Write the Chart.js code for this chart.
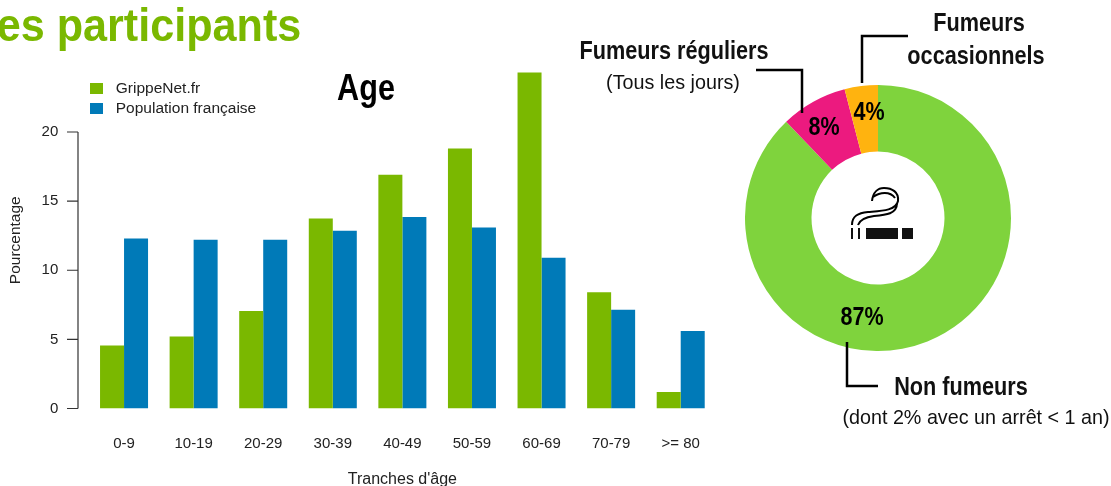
<!DOCTYPE html>
<html lang="fr"><head><meta charset="utf-8">
<script src="https://cdn.jsdelivr.net/npm/chart.js@4"></script>
<style>
html,body{margin:0;padding:0;background:#fff;width:1111px;height:486px;overflow:hidden}
#stage{position:relative;width:1111px;height:486px;overflow:hidden}
canvas{position:absolute}
.t{position:absolute;white-space:nowrap;font-family:"Liberation Sans",sans-serif;color:#000;line-height:1}
.b{font-weight:bold}
svg{position:absolute;left:0;top:0}
</style></head><body>
<div id="stage">
<div id="barBox" style="position:absolute;left:0;top:0;width:720px;height:486px"><canvas id="bars"></canvas></div>
<div id="donutBox" style="position:absolute;left:745px;top:85px;width:266px;height:266px"><canvas id="donut"></canvas></div>
<svg width="1111" height="486" fill="none" stroke="#000" stroke-width="2.5">
<path d="M756 70H802V113"/><path d="M908 36H862V83"/><path d="M847 342V386H878"/>
<g stroke-width="2"><path d="M852 225C852 216 858 213 868 212C880 211 896 211 898 201C899 192 892 188 884 188C878 188 873 192 872 201"/>
<path d="M858 225C860 219 866 217 874 216C886 215 897 214 897 203"/><path d="M873 197C880 192 890 191 895 198"/></g>
<g fill="#111" stroke="none"><rect x="851" y="228" width="2" height="11"/><rect x="858" y="228" width="2" height="11"/><rect x="866" y="228" width="32" height="11"/><rect x="902" y="228" width="11" height="11"/></g>
</svg>
</div>
<script>
const categories=["0-9","10-19","20-29","30-39","40-49","50-59","60-69","70-79",">= 80"];
const grippeNet=[4.55,5.2,7.05,13.75,16.9,18.8,24.3,8.4,1.2];
const populationFr=[12.3,12.2,12.2,12.85,13.85,13.1,10.9,7.15,5.6];
const yTicks=[0,5,10,15,20];
const smokerLabels=["Non fumeurs","Fumeurs réguliers","Fumeurs occasionnels"];
const smokerValues=[87,8,4];
const smokerColors=["#7FD33D","#EC1A7F","#FFB30F"];
const seriesColors=['#7AB800','#007AB8'];
const texts=[
["es participants",149,24,47,1,"#7AB800",.918],["Age",366,88,36,1,"#000",.85],
["Fumeurs",979,22,25,1,"#111",.867],["occasionnels",976,55,25,1,"#111",.867],
["Fumeurs réguliers",673.5,50,25,1,"#111",.867],["(Tous les jours)",673,81,21,0,"#111",.94],
["Non fumeurs",961,386,25,1,"#111",.867],["(dont 2% avec un arrêt < 1 an)",976,416,21,0,"#111",.94],
["8%",824,126,25,1,"#000",.86],["4%",869,111,25,1,"#000",.86],["87%",862,316,25,1,"#000",.86]];
const stage=document.getElementById('stage');
for(const [s,x,y,size,bold,col,k] of texts){const d=document.createElement('div');d.className='t'+(bold?' b':'');d.textContent=s;d.style.cssText=`left:${x}px;top:${y}px;font-size:${size}px;color:${col};transform:translate(-50%,-50%) scaleX(${k})`;stage.appendChild(d);}
Chart.defaults.animation=false;
Chart.defaults.font.family='"Liberation Sans",sans-serif';
const swatches=seriesColors.map(c=>{const k=document.createElement('canvas');k.width=18;k.height=11;const g=k.getContext('2d');g.fillStyle=c;g.fillRect(0,0,13,11);return k;});
const rAxes={id:'rAxes',
afterLayout(c){const l=c.legend;l.left=85;l.top=75.5;l.bottom=75.5+l.height;},
afterDraw(c){const y=c.scales.y,g=c.ctx,ax=78;g.save();g.strokeStyle='#333';g.lineWidth=1.2;g.beginPath();
g.moveTo(ax,y.getPixelForValue(yTicks[0]));g.lineTo(ax,y.getPixelForValue(yTicks[yTicks.length-1]));
for(const t of yTicks){g.moveTo(ax,y.getPixelForValue(t));g.lineTo(ax-11,y.getPixelForValue(t));}g.stroke();g.restore();}};
new Chart(document.getElementById('bars'),{type:'bar',plugins:[rAxes],data:{labels:categories,datasets:[
{label:'GrippeNet.fr',data:grippeNet,backgroundColor:seriesColors[0]},
{label:'Population française',data:populationFr,backgroundColor:seriesColors[1]}]},
options:{responsive:true,maintainAspectRatio:false,layout:{padding:{left:0,right:4.5,top:72,bottom:0}},
datasets:{bar:{barPercentage:1,categoryPercentage:0.69}},
plugins:{tooltip:{enabled:false},legend:{position:'chartArea',align:'start',labels:{usePointStyle:true,pointStyleWidth:18,boxHeight:11,padding:5,color:'#222',font:{size:15.5},
generateLabels(c){const items=Chart.defaults.plugins.legend.labels.generateLabels(c);items.forEach((it,i)=>{it.pointStyle=swatches[i]});return items;}}}},
scales:{
x:{afterFit(s){s.height=77.5},grid:{display:false},border:{display:false},ticks:{color:'#222',font:{size:15},padding:18,maxRotation:0,autoSkip:false},
title:{display:true,text:"Tranches d'âge",color:'#222',font:{size:16},padding:{top:18,bottom:-3}}},
y:{min:0,max:24.34,afterFit(s){s.width=89.25},afterBuildTicks(s){s.ticks=yTicks.map(v=>({value:v}))},grid:{display:false},border:{display:false},
ticks:{color:'#222',font:{size:15},padding:23,autoSkip:false},
title:{display:true,text:'Pourcentage',color:'#222',font:{size:15.5},padding:{top:6,bottom:0}}}}}});
new Chart(document.getElementById('donut'),{type:'doughnut',data:{labels:smokerLabels,datasets:[{data:smokerValues,backgroundColor:smokerColors,borderWidth:0}]},
options:{responsive:true,maintainAspectRatio:false,cutout:'50%',plugins:{legend:{display:false},tooltip:{enabled:false}}}});
</script></body></html>
